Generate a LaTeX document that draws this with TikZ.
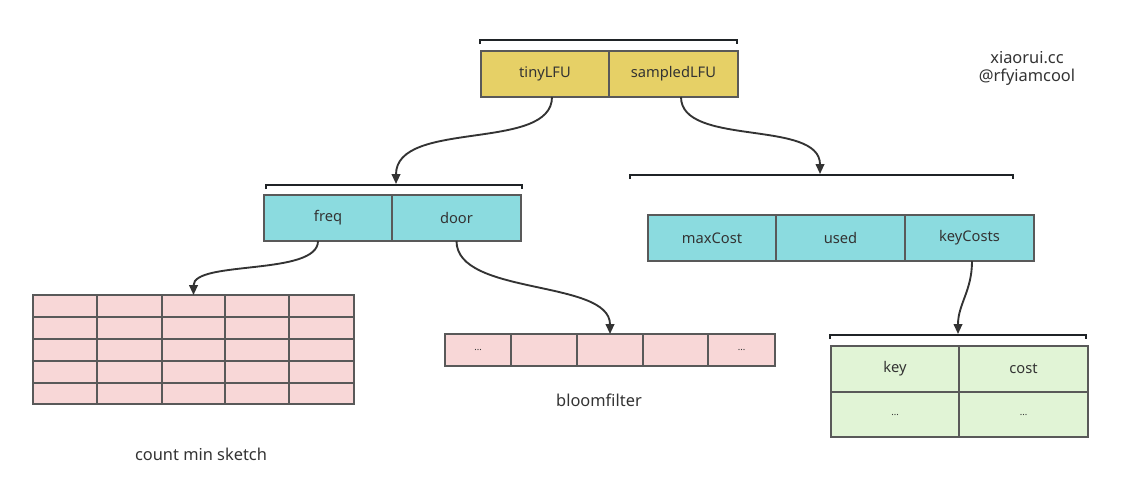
\documentclass[tikz,border=0pt]{standalone}
\usepackage{fontspec}
\setmainfont{Noto Sans}
\usetikzlibrary{arrows.meta,calc}
\definecolor{yel}{HTML}{E6D066}
\definecolor{cya}{HTML}{8BDBDF}
\definecolor{pnk}{HTML}{F8D7D7}
\definecolor{grn}{HTML}{E1F4D6}
\definecolor{edgec}{HTML}{595959}
\definecolor{ink}{HTML}{333333}
\definecolor{brk}{HTML}{1F2326}
\tikzset{
  cellbox/.style={draw=edgec, line width=1.5pt, rectangle, inner sep=0pt, outer sep=0pt,
    anchor=north west, text=ink, font=\fontsize{11}{13}\selectfont},
  wide/.style={minimum width=96pt, minimum height=34.5pt},
  dotstext/.style={font=\fontsize{7}{8}\selectfont},
  bracketline/.style={draw=brk, line width=1.5pt},
  conn/.style={draw=ink, line width=1.4pt, -{Triangle[length=7.5pt,width=6.5pt]}},
  plaintext/.style={text=ink, font=\fontsize{12.3}{14}\selectfont, inner sep=0pt}
}
\begin{document}
\begin{tikzpicture}[x=0.75pt,y=-0.75pt]
\useasboundingbox[fill=white] (0,0) rectangle (1126,490);

% top
\draw[bracketline] (480,44) -- (480,40) -- (737,40) -- (737,44);
\node[cellbox, wide, fill=yel] (tiny) at (481,51) {tinyLFU};
\node[cellbox, wide, minimum width=96.75pt, fill=yel] (sampled) at (609,51) {sampledLFU};

% freq / door
\draw[bracketline] (266,189) -- (266,185) -- (522,185) -- (522,189);
\coordinate (fdtop) at (396,184);
\node[cellbox, wide, fill=cya] (freq) at (264,195) {freq};
\node[cellbox, wide, minimum width=96.75pt, fill=cya] (door) at (392,195) {door};

% maxCost / used / keyCosts
\draw[bracketline] (630,179) -- (630,175) -- (1013,175) -- (1013,179);
\coordinate (mtop) at (820,174);
\node[cellbox, wide, fill=cya] (maxcost) at (648,215) {maxCost};
\node[cellbox, wide, minimum width=96.75pt, fill=cya] (used) at (776,215) {used};
\node[cellbox, wide, minimum width=96.75pt, fill=cya] (keycosts) at (905,215) {keyCosts};

% count min sketch grid
\foreach \r/\y/\h in {1/295/22,2/317/22,3/339/22,4/361/22,5/383/21}{
  \foreach \c/\x/\w in {1/33/64,2/97/65,3/162/63,4/225/64,5/289/65}{
    \node[cellbox, minimum width=\w*0.75pt, minimum height=\h*0.75pt, fill=pnk] (cms-\r-\c) at (\x,\y) {};
  }
}
\node[plaintext] (cmslabel) at (201,454) {count min sketch};

% bloom filter
\node[cellbox, minimum width=49.5pt, minimum height=24pt, fill=pnk, dotstext] (bf1) at (445,334) {...};
\node[cellbox, minimum width=49.5pt, minimum height=24pt, fill=pnk] (bf2) at (511,334) {};
\node[cellbox, minimum width=49.5pt, minimum height=24pt, fill=pnk] (bf3) at (577,334) {};
\node[cellbox, minimum width=48.75pt, minimum height=24pt, fill=pnk] (bf4) at (643,334) {};
\node[cellbox, minimum width=50.25pt, minimum height=24pt, fill=pnk, dotstext] (bf5) at (708,334) {...};
\node[plaintext] (bflabel) at (599,400) {bloomfilter};

% key/cost table
\draw[bracketline] (830,339) -- (830,335) -- (1086,335) -- (1086,339);
\coordinate (ktop) at (958,334);
\node[cellbox, wide, fill=grn] (key) at (831,346) {key};
\node[cellbox, wide, minimum width=96.75pt, fill=grn] (cost) at (959,346) {cost};
\node[cellbox, minimum width=96pt, minimum height=33.75pt, fill=grn, dotstext] (kd) at (831,392) {...};
\node[cellbox, minimum width=96.75pt, minimum height=33.75pt, fill=grn, dotstext] (cd) at (959,392) {...};

% signature
\node[plaintext] (site) at (1027,58) {xiaorui.cc};
\node[plaintext] (handle) at (1027,77) {@rfyiamcool};

% connectors
\draw[conn] ($(tiny.south)+(7,0)$) .. controls +(0,55) and +(0,-65) .. (fdtop);
\draw[conn] ($(sampled.south)+(7.5,0)$) .. controls +(0,50) and +(0,-55) .. (mtop);
\draw[conn] ($(freq.south)+(-10,0)$) .. controls +(0,35) and +(0,-35) .. (cms-1-3.north);
\draw[conn] (door.south) .. controls +(0,55) and +(0,-55) .. (bf3.north);
\draw[conn] ($(keycosts.south)+(2.5,0)$) .. controls +(0,30) and +(0,-30) .. (ktop);
\end{tikzpicture}
\end{document}
